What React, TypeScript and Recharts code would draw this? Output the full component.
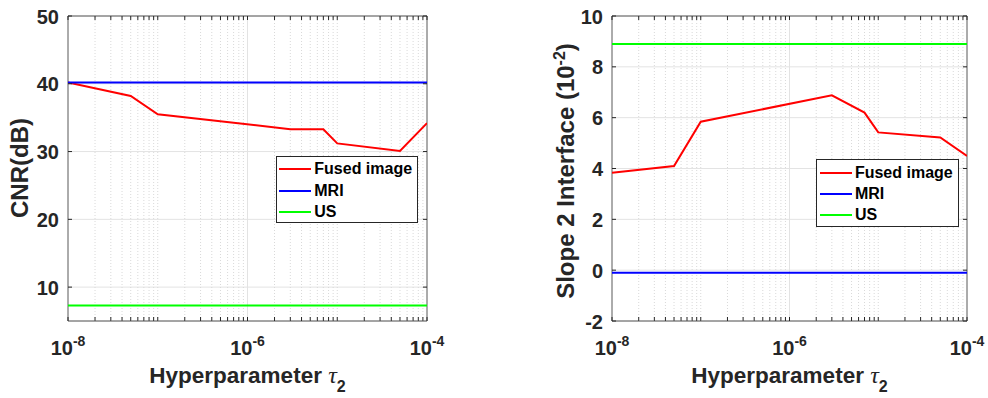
import React from 'react';
import { LineChart, Line, XAxis, YAxis, CartesianGrid, ReferenceLine, ReferenceArea, Legend } from 'recharts';

// hyperparameter tau_2 sweep (log axis)
const tauValues = [1e-8, 5e-8, 1e-7, 3e-6, 7e-6, 1e-5, 5e-5, 1e-4];

// left panel: CNR (dB)
const cnrFused = [40.2, 38.2, 35.5, 33.3, 33.3, 31.2, 30.1, 34.2];
const cnrMri = [40.2, 40.2, 40.2, 40.2, 40.2, 40.2, 40.2, 40.2];
const cnrUs = [7.3, 7.3, 7.3, 7.3, 7.3, 7.3, 7.3, 7.3];
const cnrTicks = [10, 20, 30, 40, 50];

// right panel: slope 2 interface (x 10^-2)
const slopeFused = [3.83, 4.1, 5.84, 6.88, 6.2, 5.42, 5.22, 4.49];
const slopeMri = [-0.1, -0.1, -0.1, -0.1, -0.1, -0.1, -0.1, -0.1];
const slopeUs = [8.9, 8.9, 8.9, 8.9, 8.9, 8.9, 8.9, 8.9];
const slopeTicks = [-2, 0, 2, 4, 6, 8, 10];

const xMajorTicks = [1e-8, 1e-6, 1e-4];
const decades = [1e-8, 1e-7, 1e-6, 1e-5];
const multipliers = [1, 2, 3, 4, 5, 6, 7, 8, 9];
const xMinorTicks = decades.flatMap((d) => multipliers.map((m) => m * d)).filter((v) => !xMajorTicks.includes(v));

const seriesNames = ['Fused image', 'MRI', 'US'];
const seriesColors = ['#ff0000', '#0000ff', '#00ff00'];

const FONT = '"Liberation Sans", Arial, Helvetica, sans-serif';
const INK = '#262626';
const H = 398;
const PLOT_TOP = 16;
const X_AXIS_H = 77;

type PanelProps = {
  left: number;
  width: number;
  yWidth: number;
  plotRight: number;
  yDomain: [number, number];
  yTicks: number[];
  fused: number[];
  mri: number[];
  us: number[];
  yTitle: React.ReactNode;
  yTitleX: number;
  yTitleY: number;
  legendBox: { left: number; top: number; width: number; height: number };
};

function Panel(p: PanelProps) {
  const plotRight = p.plotRight;
  const plotBottom = H - X_AXIS_H;
  const rows = tauValues.map((t, i) => ({ tau: t, fused: p.fused[i], mri: p.mri[i], us: p.us[i] }));
  const allXTicks = [...xMajorTicks, ...xMinorTicks].sort((a, b) => a - b);

  const renderXTick = ({ x, payload }: any) => {
    const major = xMajorTicks.includes(payload.value);
    const exp = Math.round(Math.log10(payload.value));
    return (
      <g>
        <line x1={x} y1={plotBottom} x2={x} y2={plotBottom - 4} stroke={INK} />
        <line x1={x} y1={PLOT_TOP} x2={x} y2={PLOT_TOP + 4} stroke={INK} />
        {major && (
          <text x={x} y={plotBottom + 34} textAnchor="middle" fontFamily={FONT} fontWeight="bold" fontSize={20} fill={INK}>
            10<tspan dy={-9} fontSize={14}>{`${exp}`}</tspan>
          </text>
        )}
      </g>
    );
  };

  const renderYTick = ({ y, payload }: any) => (
    <g>
      <line x1={p.yWidth} y1={y} x2={p.yWidth + 4} y2={y} stroke={INK} />
      <line x1={plotRight - 4} y1={y} x2={plotRight} y2={y} stroke={INK} />
      <text x={p.yWidth - 9} y={y + 7.5} textAnchor="end" fontFamily={FONT} fontWeight="bold" fontSize={20} fill={INK}>
        {payload.value}
      </text>
    </g>
  );

  const renderXTitle = () => {
    const cx = (p.yWidth + plotRight) / 2;
    return (
      <text x={cx} y={383} textAnchor="middle" fontFamily={FONT} fontWeight="bold" fontSize={22.5} fill={INK}>
        Hyperparameter{' '}
        <tspan fontFamily='"Liberation Serif", "DejaVu Serif", serif' fontStyle="italic" fontWeight="normal" fontSize={24}>τ</tspan>
        <tspan dy={8.5} fontSize={16}>2</tspan>
      </text>
    );
  };

  const renderYTitle = () => (
    <text
      x={p.yTitleX}
      y={p.yTitleY}
      transform={`rotate(-90 ${p.yTitleX} ${p.yTitleY})`}
      textAnchor="middle"
      fontFamily={FONT}
      fontWeight="bold"
      fontSize={24}
      fill={INK}
    >
      {p.yTitle}
    </text>
  );

  const renderLegend = ({ payload }: any) => {
    const items = (payload && payload.length ? payload : seriesNames.map((n, i) => ({ value: n, color: seriesColors[i] })));
    return (
      <div
        style={{
          width: p.legendBox.width,
          height: p.legendBox.height,
          boxSizing: 'border-box',
          border: `1px solid ${INK}`,
          background: '#fff',
          position: 'relative',
        }}
      >
        {items.map((entry: any, i: number) => (
          <div
            key={entry.value}
            style={{ position: 'absolute', left: 2.6, top: 12.3 + 21.2 * i - 10, height: 20, display: 'flex', alignItems: 'center' }}
          >
            <svg width={32} height={4} style={{ display: 'block' }}>
              <line x1={0} y1={2} x2={32} y2={2} stroke={entry.color} strokeWidth={2} />
            </svg>
            <span style={{ marginLeft: 3, fontFamily: FONT, fontWeight: 'bold', fontSize: 16, color: '#000', whiteSpace: 'nowrap' }}>
              {entry.value}
            </span>
          </div>
        ))}
      </div>
    );
  };

  return (
    <div style={{ position: 'absolute', left: p.left, top: 0 }}>
      <LineChart width={p.width} height={H} data={rows} margin={{ top: PLOT_TOP, right: p.width - plotRight, bottom: 0, left: 0 }}>
        <CartesianGrid vertical={false} stroke="#e3e3e3" />
        {xMinorTicks.map((v) => (
          <ReferenceLine key={`m${v}`} x={v} stroke="#d9d9d9" strokeDasharray="1 2" />
        ))}
        <ReferenceLine x={1e-6} stroke="#e3e3e3" />
        <XAxis
          dataKey="tau"
          type="number"
          scale="log"
          domain={[1e-8, 1e-4]}
          ticks={allXTicks}
          interval={0}
          allowDataOverflow
          height={X_AXIS_H}
          axisLine={false}
          tickLine={false}
          tickSize={0}
          tickMargin={0}
          tick={renderXTick}
          label={{ content: renderXTitle }}
        />
        <YAxis
          type="number"
          domain={p.yDomain}
          ticks={p.yTicks}
          interval={0}
          allowDataOverflow
          width={p.yWidth}
          axisLine={false}
          tickLine={false}
          tickSize={0}
          tickMargin={0}
          tick={renderYTick}
          label={{ content: renderYTitle }}
        />
        <Line dataKey="fused" name={seriesNames[0]} stroke={seriesColors[0]} strokeWidth={2} dot={false} type="linear" isAnimationActive={false} />
        <Line dataKey="mri" name={seriesNames[1]} stroke={seriesColors[1]} strokeWidth={2} dot={false} type="linear" isAnimationActive={false} />
        <Line dataKey="us" name={seriesNames[2]} stroke={seriesColors[2]} strokeWidth={2} dot={false} type="linear" isAnimationActive={false} />
        <ReferenceArea x1={1e-8} x2={1e-4} y1={p.yDomain[0]} y2={p.yDomain[1]} fill="none" stroke="#595959" ifOverflow="visible" />
        <Legend
          layout="vertical"
          align="center"
          verticalAlign="middle"
          content={renderLegend}
          wrapperStyle={{ left: p.legendBox.left, top: p.legendBox.top, width: p.legendBox.width, height: p.legendBox.height }}
        />
      </LineChart>
    </div>
  );
}

export default function App() {
  return (
    <div style={{ position: 'absolute', left: 0, top: 0, width: 988, height: H, background: '#fff' }}>
      <Panel
        left={0}
        width={480}
        yWidth={68}
        plotRight={427}
        yDomain={[5, 50]}
        yTicks={cnrTicks}
        fused={cnrFused}
        mri={cnrMri}
        us={cnrUs}
        yTitle="CNR(dB)"
        yTitleX={28}
        yTitleY={168}
        legendBox={{ left: 275.7, top: 156, width: 142, height: 67 }}
      />
      <Panel
        left={540}
        width={448}
        yWidth={72}
        plotRight={427}
        yDomain={[-2, 10]}
        yTicks={slopeTicks}
        fused={slopeFused}
        mri={slopeMri}
        us={slopeUs}
        yTitle={
          <>
            Slope 2 Interface (10<tspan dy={-9} fontSize={16}>-2</tspan>
            <tspan dy={9}>)</tspan>
          </>
        }
        yTitleX={34}
        yTitleY={171}
        legendBox={{ left: 276.3, top: 159.3, width: 143, height: 68 }}
      />
    </div>
  );
}
